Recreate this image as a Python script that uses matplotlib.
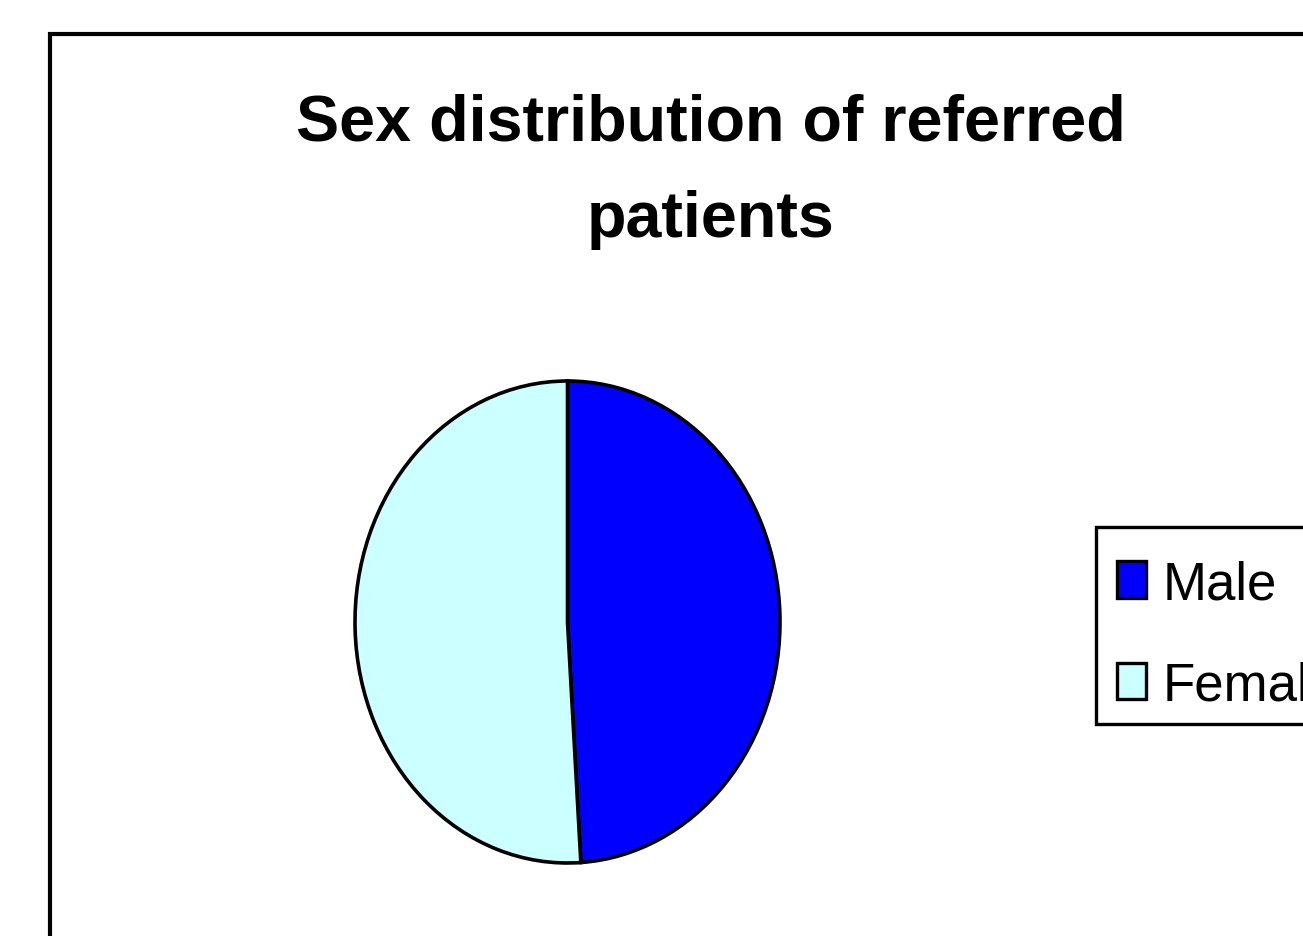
import matplotlib
matplotlib.use('Agg')
import matplotlib.pyplot as plt
from matplotlib.patches import Rectangle, Patch

'''
DATA
'''
labels = ['Male', 'Female']
shares = [49, 51]
colors = ['#0000FF', '#CCFFFF']
title = 'Sex distribution of referred\npatients'

W, H = 1303, 937
plt.rcParams['font.family'] = ['Liberation Sans', 'DejaVu Sans']

fig = plt.figure(figsize=(W/100, H/100), dpi=100)

# outer chart frame, runs off the right and bottom edges
fig.add_artist(Rectangle((50/W, -0.2), 1.5, 1.2 - 35/H, transform=fig.transFigure,
                         fill=False, edgecolor='black', linewidth=3, clip_on=False))

# pie is stretched vertically in the original -> aspect auto
ax = fig.add_axes([355/W, 1 - 864/H, (780-355)/W, (864-382)/H])
ax.pie(shares, colors=colors, startangle=90, counterclock=False,
       wedgeprops=dict(edgecolor='black', linewidth=2.6))
ax.set_aspect('auto')
ax.set_xlim(-1, 1)
ax.set_ylim(-1, 1)
ax.axis('off')

fig.text(711/W, 1 - 172/H, title, ha='center', va='center', fontsize=46.5,
         fontweight='bold', linespacing=1.78)

# legend box drawn separately so it can be placed exactly
fig.add_artist(Rectangle((1096/W, 1 - 725/H), 0.5, (725-528)/H, transform=fig.transFigure,
                         facecolor='white', edgecolor='black', linewidth=2.4, clip_on=False))
handles = [Patch(facecolor=c, edgecolor='black', linewidth=2.4) for c in colors]
leg = fig.legend(handles, labels, loc='upper left',
                 bbox_to_anchor=(1096/W, 1 - 539/H), bbox_transform=fig.transFigure,
                 fontsize=38, handlelength=0.55, handleheight=0.68,
                 handletextpad=0.32, labelspacing=0.98, borderaxespad=0,
                 borderpad=0.4, frameon=False)

fig.savefig('out.png', dpi=100)
